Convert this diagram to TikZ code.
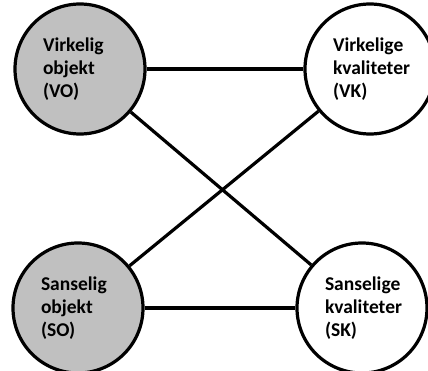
\documentclass[tikz,border=0pt]{standalone}
\usepackage{fontspec}
\setmainfont{Carlito}
\usepackage{tikz}
\usetikzlibrary{positioning}
\definecolor{objgray}{RGB}{192,192,192}
\tikzset{
	thing/.style={circle,draw,line width=3.2pt,minimum size=130pt,inner sep=0pt,text width=74pt,align=left,font=\bfseries\fontsize{19.5}{23}\selectfont},
	link/.style={line width=3.2pt}
}

\begin{document}
\begin{tikzpicture}[x=1pt,y=-1pt]
		\useasboundingbox (0,0) rectangle (428,371);

		\node[thing,fill=objgray] (VO) at (80,69) {Virkelig\\objekt\\(VO)};
		\node[thing] (VK) at (370,69) {Virkelige\\kvaliteter\\(VK)};
		\node[thing,fill=objgray] (SO) at (78,308) {Sanselig\\objekt\\(SO)};
		\node[thing] (SK) at (362,308) {Sanselige\\kvaliteter\\(SK)};

		\draw[link] (VO) -- (VK);
		\draw[link] (SO) -- (SK);
		\draw[link] (VO) -- (SK);
		\draw[link] (SO) -- (VK);
	\end{tikzpicture}
\end{document}
